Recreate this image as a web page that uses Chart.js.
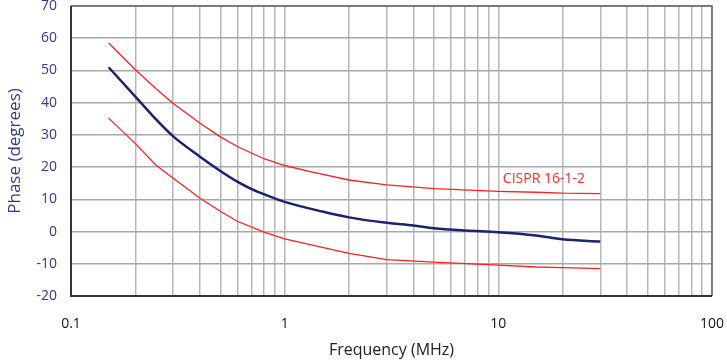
<!DOCTYPE html>
<html>
<head>
<meta charset="utf-8">
<script src="https://cdn.jsdelivr.net/npm/chart.js@4/dist/chart.umd.min.js"></script>
<style>
  html, body { margin: 0; padding: 0; background: #ffffff; }
  #wrap { width: 727px; height: 362px; position: relative; }
</style>
</head>
<body>
<div id="wrap"><canvas id="phaseChart"></canvas></div>
<script>
// Limit lines (CISPR 16-1-2)
const limitFreq = [0.15, 0.2, 0.25, 0.3, 0.4, 0.5, 0.6, 0.8, 1, 1.3, 2, 3, 5, 10, 15, 20, 30];
const upperLimit = [58.5, 50.2, 44.3, 39.8, 33.7, 29.4, 26.4, 22.6, 20.5, 18.7, 16.0, 14.5, 13.3, 12.5, 12.2, 11.9, 11.8];
const lowerLimit = [35.2, 27.3, 20.6, 16.6, 10.4, 6.3, 3.2, -0.2, -2.3, -4.0, -6.8, -8.7, -9.5, -10.4, -11.0, -11.2, -11.5];

// Measured phase
const measFreq = [0.15, 0.2, 0.25, 0.3, 0.4, 0.5, 0.6, 0.7, 0.8, 0.9, 1, 1.5, 2, 3, 4, 5, 7, 10, 15, 20, 30];
const measPhase = [51.0, 41.9, 34.8, 29.6, 23.3, 18.8, 15.5, 13.2, 11.6, 10.3, 9.2, 6.2, 4.4, 2.7, 1.85, 1.0, 0.3, -0.2, -1.2, -2.4, -3.1];

// Axis ticks
const xTicks = [0.1, 0.2, 0.3, 0.4, 0.5, 0.6, 0.7, 0.8, 0.9,
                1, 2, 3, 4, 5, 6, 7, 8, 9,
                10, 20, 30, 40, 50, 60, 70, 80, 90, 100];
const xLabels = { 0.1: '0.1', 1: '1', 10: '10', 100: '100' };
const yMin = -20, yMax = 70, yStep = 10;

const limitLabel = { text: 'CISPR 16-1-2', x: 10.5, y: 16.2 };

const toPoints = (xs, ys) => xs.map((x, i) => ({ x: x, y: ys[i] }));

const FONT = "'Open Sans', 'DejaVu Sans', sans-serif";

// frame around the plot + limit label
const framePlugin = {
    id: 'frame',
    afterDatasetsDraw(chart) {
        const ctx = chart.ctx;
        const a = chart.chartArea;
        ctx.save();
        ctx.strokeStyle = '#666666';
        ctx.lineWidth = 1.5;
        ctx.beginPath();
        ctx.moveTo(a.left, a.top);
        ctx.lineTo(a.right, a.top);
        ctx.lineTo(a.right, a.bottom);
        ctx.stroke();
        ctx.strokeStyle = '#333333';
        ctx.lineWidth = 2;
        ctx.beginPath();
        ctx.moveTo(a.left, a.top);
        ctx.lineTo(a.left, a.bottom);
        ctx.lineTo(a.right, a.bottom);
        ctx.stroke();

        const xs = chart.scales.x, ys = chart.scales.y;
        ctx.fillStyle = '#ff2a2a';
        ctx.font = "14px " + FONT;
        ctx.textAlign = 'left';
        ctx.textBaseline = 'middle';
        ctx.fillText(limitLabel.text, xs.getPixelForValue(limitLabel.x), ys.getPixelForValue(limitLabel.y));
        ctx.restore();
    }
};

const ctx = document.getElementById('phaseChart').getContext('2d');
const chart = new Chart(ctx, {
    type: 'line',
    data: {
        datasets: [
            {
                label: 'Upper limit',
                data: toPoints(limitFreq, upperLimit),
                borderColor: '#ff2020',
                borderWidth: 1.3,
                pointRadius: 0,
                tension: 0,
                fill: false
            },
            {
                label: 'Lower limit',
                data: toPoints(limitFreq, lowerLimit),
                borderColor: '#ff2020',
                borderWidth: 1.3,
                pointRadius: 0,
                tension: 0,
                fill: false
            },
            {
                label: 'Phase',
                data: toPoints(measFreq, measPhase),
                borderColor: '#1c2170',
                borderWidth: 2.5,
                pointRadius: 0,
                cubicInterpolationMode: 'monotone',
                fill: false
            }
        ]
    },
    options: {
        responsive: true,
        maintainAspectRatio: false,
        animation: false,
        layout: {
            padding: { top: 6, right: 15, bottom: 0, left: 0 }
        },
        plugins: {
            legend: { display: false },
            tooltip: { enabled: false }
        },
        scales: {
            x: {
                type: 'logarithmic',
                min: 0.1,
                max: 100,
                afterBuildTicks: (scale) => {
                    scale.ticks = xTicks.map(v => ({ value: v }));
                },
                afterFit: (scale) => {
                    scale.height = 66;
                    scale.paddingLeft = 0;
                    scale.paddingRight = 0;
                },
                grid: {
                    color: '#b8b8b8',
                    lineWidth: 1.5,
                    drawTicks: false
                },
                border: { display: false },
                ticks: {
                    autoSkip: false,
                    maxRotation: 0,
                    padding: 20,
                    color: '#111111',
                    font: { family: FONT, size: 14 },
                    callback: (v) => xLabels[v] || ''
                },
                title: {
                    display: true,
                    text: 'Frequency (MHz)',
                    color: '#222222',
                    font: { family: FONT, size: 16 },
                    padding: { top: 0, bottom: 2 }
                }
            },
            y: {
                min: yMin,
                max: yMax,
                afterFit: (scale) => {
                    scale.width = 71;
                    scale.paddingTop = 0;
                    scale.paddingBottom = 0;
                },
                grid: {
                    color: '#a8a8a8',
                    lineWidth: 1.5,
                    drawTicks: false
                },
                border: { display: false },
                ticks: {
                    stepSize: yStep,
                    padding: 14,
                    color: '#2e3a8f',
                    font: { family: FONT, size: 14 }
                },
                title: {
                    display: true,
                    text: 'Phase (degrees)',
                    color: '#2e3a8f',
                    font: { family: FONT, size: 17 },
                    padding: { top: 5, bottom: 0 }
                }
            }
        }
    },
    plugins: [framePlugin]
});
</script>
</body>
</html>
